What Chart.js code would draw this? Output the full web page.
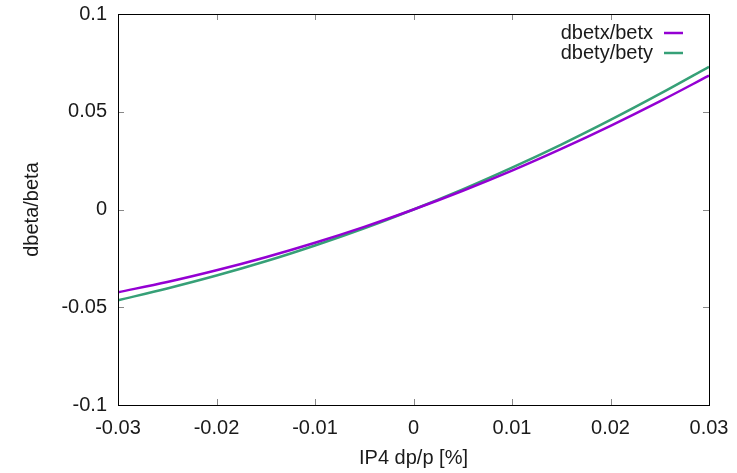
<!DOCTYPE html>
<html>
<head>
<meta charset="utf-8">
<script src="https://cdn.jsdelivr.net/npm/chart.js@4.4.1/dist/chart.umd.min.js"></script>
<style>
  html, body { margin: 0; padding: 0; background: #fff; }
  #wrap { position: relative; width: 737px; height: 473px; }
</style>
</head>
<body>
<div id="wrap"><canvas id="beta-chart"></canvas></div>
<script>
// IP4 momentum offset dp/p [%]
const dpp = [-0.03, -0.025, -0.02, -0.015, -0.01, -0.005, 0, 0.005, 0.01, 0.015, 0.02, 0.025, 0.03];
// beta beating
const dbetx = [-0.0423, -0.0371, -0.0311, -0.0244, -0.0170, -0.0089, 0, 0.0096, 0.0199, 0.0310, 0.0428, 0.0553, 0.0685];
const dbety = [-0.0464, -0.0404, -0.0338, -0.0265, -0.0184, -0.0096, 0, 0.0103, 0.0214, 0.0332, 0.0458, 0.0591, 0.0730];
const xTicks = [-0.03, -0.02, -0.01, 0, 0.01, 0.02, 0.03];
const yTicks = [-0.1, -0.05, 0, 0.05, 0.1];
const seriesNames = ["dbetx/betx", "dbety/bety"];

const FONT = "'Liberation Sans', Arial, sans-serif";
const FS = 20;
const TXT = "#1a1a1a";
const PURPLE = "#9400d3";
const GREEN = "#36a077";

const pts = (ys) => dpp.map((x, i) => ({ x: x, y: ys[i] }));
const fmt = (v) => String(Number(v.toFixed(4)));

// gnuplot style frame with inward ticks on all four sides
const framePlugin = {
  id: "frame",
  afterDraw(chart) {
    const { ctx, chartArea: a, scales } = chart;
    ctx.save();
    ctx.strokeStyle = "#888";
    ctx.lineWidth = 1;
    ctx.beginPath();
    xTicks.forEach((v) => {
      const px = Math.round(scales.x.getPixelForValue(v)) + 0.5;
      ctx.moveTo(px, a.bottom); ctx.lineTo(px, a.bottom - 6);
      ctx.moveTo(px, a.top); ctx.lineTo(px, a.top + 6);
    });
    yTicks.forEach((v) => {
      const py = Math.round(scales.y.getPixelForValue(v)) + 0.5;
      ctx.moveTo(a.left, py); ctx.lineTo(a.left + 6, py);
      ctx.moveTo(a.right, py); ctx.lineTo(a.right - 6, py);
    });
    ctx.stroke();
    ctx.strokeStyle = "#000";
    ctx.strokeRect(Math.round(a.left) + 0.5, Math.round(a.top) + 0.5,
      Math.round(a.right - a.left), Math.round(a.bottom - a.top));

    // key, text right aligned with sample line after it
    ctx.font = FS + "px " + FONT;
    ctx.textAlign = "right";
    ctx.textBaseline = "middle";
    chart.data.datasets.forEach((ds, i) => {
      const y = 33 + i * 20;
      ctx.fillStyle = TXT;
      ctx.fillText(ds.label, a.right - 56, y);
      ctx.strokeStyle = ds.borderColor;
      ctx.lineWidth = 2.5;
      ctx.beginPath();
      ctx.moveTo(a.right - 45, y); ctx.lineTo(a.right - 26, y);
      ctx.stroke();
    });
    ctx.restore();
  }
};

const config = {
  type: "line",
  data: {
    datasets: [
      {
        label: seriesNames[0],
        data: pts(dbetx),
        borderColor: PURPLE,
        backgroundColor: PURPLE,
        borderWidth: 2.5,
        pointRadius: 0,
        cubicInterpolationMode: "monotone",
        fill: false,
      },
      {
        label: seriesNames[1],
        data: pts(dbety),
        borderColor: GREEN,
        backgroundColor: GREEN,
        borderWidth: 2.5,
        pointRadius: 0,
        cubicInterpolationMode: "monotone",
        fill: false,
      },
    ],
  },
  options: {
    responsive: false,
    animation: false,
    layout: { padding: { left: 0, top: 14, right: 28, bottom: 0 } },
    plugins: {
      legend: { display: false },
      tooltip: { enabled: false },
    },
    scales: {
      x: {
        type: "linear",
        min: -0.03,
        max: 0.03,
        afterBuildTicks: (s) => { s.ticks = xTicks.map((v) => ({ value: v })); },
        afterFit: (s) => { s.height = 68; s.paddingLeft = 0; s.paddingRight = 0; },
        ticks: {
          color: TXT,
          font: { family: FONT, size: FS },
          padding: 11,
          maxRotation: 0,
          autoSkip: false,
          callback: fmt,
        },
        grid: { display: false, drawTicks: false },
        border: { display: false },
        title: {
          display: true,
          text: "IP4 dp/p [%]",
          color: TXT,
          font: { family: FONT, size: FS },
          padding: { top: 0, bottom: 3 },
        },
      },
      y: {
        type: "linear",
        min: -0.1,
        max: 0.1,
        afterBuildTicks: (s) => { s.ticks = yTicks.map((v) => ({ value: v })); },
        afterFit: (s) => { s.width = 118; s.paddingTop = 0; s.paddingBottom = 0; },
        ticks: {
          color: TXT,
          font: { family: FONT, size: FS },
          padding: 11,
          autoSkip: false,
          callback: fmt,
        },
        grid: { display: false, drawTicks: false },
        border: { display: false },
        title: {
          display: true,
          text: "dbeta/beta",
          color: TXT,
          font: { family: FONT, size: FS },
          padding: { top: 20, bottom: 0 },
        },
      },
    },
  },
  plugins: [framePlugin],
};

const canvas = document.getElementById("beta-chart");
canvas.width = 737;
canvas.height = 473;
new Chart(canvas.getContext("2d"), config);
</script>
</body>
</html>
